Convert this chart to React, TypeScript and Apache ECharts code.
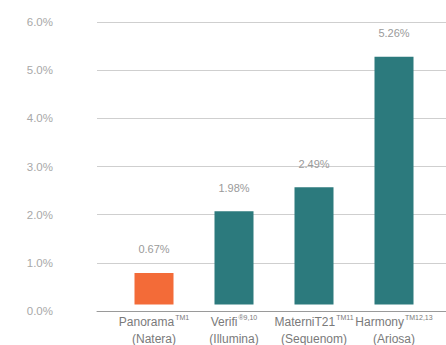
import React, { useEffect, useRef } from "react";
import * as echarts from "echarts";

const tests = ["Panorama", "Verifi", "MaterniT21", "Harmony"];
const marks = ["TM", "®", "TM", "TM"];
const refs = ["1", "9,10", "11", "12,13"];
const companies = ["Natera", "Illumina", "Sequenom", "Ariosa"];
const rates = [0.67, 1.98, 2.49, 5.26];
const barColors = ["#F36B38", "#2C7A7D", "#2C7A7D", "#2C7A7D"];
const yTicks = [0, 1, 2, 3, 4, 5, 6];

export default function App() {
  const ref = useRef<HTMLDivElement>(null);
  useEffect(() => {
    if (!ref.current) return;
    const chart = echarts.init(ref.current, null, { renderer: "svg" });
    const font = "Liberation Sans, Arial, sans-serif";
    chart.setOption({
      animation: false,
      backgroundColor: "#ffffff",
      grid: [
        { left: 97, top: 22, height: 289, right: 0 },
        { left: 114, top: 22, height: 289, width: 320 },
      ],
      xAxis: [
        {
          type: "category",
          gridIndex: 0,
          data: ["a"],
          show: true,
          axisLine: { show: true, lineStyle: { color: "#9a9a9a", width: 1 } },
          axisTick: { show: false },
          axisLabel: { show: false },
        },
        {
          type: "category",
          gridIndex: 1,
          data: tests,
          axisLine: { show: false },
          axisTick: { show: false },
          axisLabel: {
            margin: 9,
            interval: 0,
            formatter: (_v: string, i: number) =>
              `{n|${tests[i]}}{s|${marks[i]}${refs[i]}}\n{n|(${companies[i]})}`,
            rich: {
              n: { fontSize: 12, color: "#7a7a7a", fontFamily: font, lineHeight: 17 },
              s: { fontSize: 7, color: "#7a7a7a", fontFamily: font, verticalAlign: "top", lineHeight: 17, padding: [0, 0, 10, 1] },
            },
          },
        },
      ],
      yAxis: [
        {
          type: "value",
          gridIndex: 0,
          min: yTicks[0],
          max: yTicks[yTicks.length - 1],
          interval: 1,
          axisLine: { show: false },
          axisTick: { show: false },
          splitLine: { lineStyle: { color: "#cfcfcf", width: 1 } },
          axisLabel: {
            margin: 44,
            color: "#a8a8a8",
            fontSize: 11.5,
            fontFamily: font,
            formatter: (v: number) => `${v.toFixed(1)}%`,
          },
        },
        {
          type: "value",
          gridIndex: 1,
          min: yTicks[0],
          max: yTicks[yTicks.length - 1],
          interval: 1,
          show: false,
          splitLine: { show: false },
        },
      ],
      series: [
        {
          type: "bar",
          xAxisIndex: 1,
          yAxisIndex: 1,
          barWidth: 39,
          data: rates.map((v, i) => ({ value: v, itemStyle: { color: barColors[i] } })),
          label: {
            show: true,
            position: "top",
            distance: 18,
            color: "#9a9a9a",
            fontSize: 11,
            fontFamily: font,
            formatter: (p: any) => `${p.value.toFixed(2)}%`,
          },
        },
      ],
    });
    return () => chart.dispose();
  }, []);
  return (
    <div
      style={{
        position: "fixed",
        left: 0,
        top: 0,
        width: 446,
        height: 345,
        overflow: "hidden",
        background: "#fff",
      }}
    >
      <div ref={ref} style={{ width: 540, height: 345 }} />
    </div>
  );
}
